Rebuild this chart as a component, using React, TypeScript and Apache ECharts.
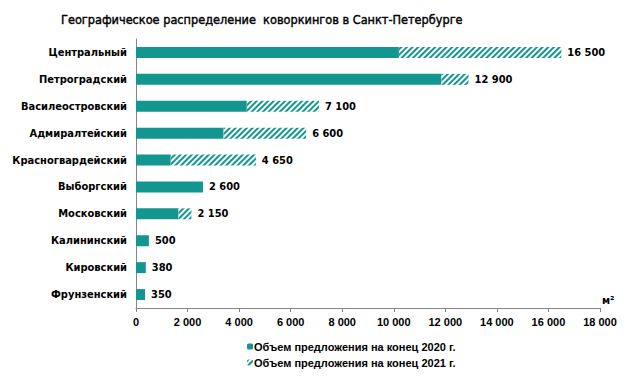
import React, { useEffect, useRef } from "react";
import * as echarts from "echarts";

const categories = [
  "Центральный",
  "Петроградский",
  "Василеостровский",
  "Адмиралтейский",
  "Красногвардейский",
  "Выборгский",
  "Московский",
  "Калининский",
  "Кировский",
  "Фрунзенский",
];
const supply2020 = [10200, 11850, 4300, 3400, 1350, 2600, 1650, 500, 380, 350];
const supply2021 = [16500, 12900, 7100, 6600, 4650, 2600, 2150, 500, 380, 350];
const xTicks = [0, 2000, 4000, 6000, 8000, 10000, 12000, 14000, 16000, 18000];
const legendNames = ["Объем предложения на конец 2020 г.", "Объем предложения на конец 2021 г."];
const titleText = "Географическое распределение  коворкингов в Санкт-Петербурге";

const NARROW = "'DejaVu Sans Condensed', 'Liberation Sans Narrow', 'Arial Narrow', sans-serif";
const SANS = "'Liberation Sans', Arial, sans-serif";
const TEAL = "#139690";

const fmt = (v: number) => String(v).replace(/\B(?=(\d{3})+(?!\d))/g, " ");

export default function App() {
  const ref = useRef<HTMLDivElement>(null);
  useEffect(() => {
    if (!ref.current) return;
    const chart = echarts.init(ref.current, undefined, { renderer: "svg" });
    const increment = supply2021.map((t, i) => t - supply2020[i]);
    chart.setOption({
      animation: false,
      backgroundColor: "#ffffff",
      title: {
        text: titleText,
        left: 61,
        top: 13,
        padding: 0,
        textStyle: {
          fontFamily: NARROW,
          fontSize: 12.6,
          fontWeight: "normal",
          color: "#000",
          textBorderColor: "#000",
          textBorderWidth: 0.4,
        },
      },
      legend: {
        data: legendNames,
        orient: "vertical",
        left: 247,
        top: 341,
        padding: 0,
        itemWidth: 6,
        itemHeight: 6,
        itemGap: 5,
        textStyle: { fontFamily: SANS, fontSize: 11, fontWeight: "bold", color: "#000", padding: [0, 0, 0, -4] },
      },
      grid: { left: 136, right: 32, top: 39, bottom: 68, containLabel: false },
      xAxis: {
        type: "value",
        min: xTicks[0],
        max: xTicks[xTicks.length - 1],
        interval: xTicks[1] - xTicks[0],
        name: "м²",
        nameLocation: "end",
        nameGap: 2,
        nameTextStyle: {
          fontFamily: NARROW,
          fontSize: 11,
          fontWeight: "bold",
          color: "#000",
          verticalAlign: "bottom",
          padding: [0, 0, 2, 0],
        },
        splitLine: { show: false },
        axisLine: { show: true, lineStyle: { color: "#868686", width: 1 } },
        axisTick: { show: true, length: 4, lineStyle: { color: "#868686" } },
        axisLabel: {
          fontFamily: SANS,
          fontSize: 11,
          fontWeight: "bold",
          color: "#000",
          margin: 8,
          formatter: (v: number) => fmt(v),
        },
      },
      yAxis: {
        type: "category",
        data: categories,
        inverse: true,
        axisLine: { show: true, lineStyle: { color: "#868686", width: 1 } },
        axisTick: { show: false },
        axisLabel: { fontFamily: NARROW, fontSize: 11, fontWeight: "bold", color: "#000", margin: 9 },
      },
      series: [
        {
          name: legendNames[0],
          type: "bar",
          stack: "s",
          data: supply2020,
          barWidth: 11,
          itemStyle: { color: TEAL },
        },
        {
          name: legendNames[1],
          type: "bar",
          stack: "s",
          data: increment,
          barWidth: 11,
          itemStyle: {
            color: "#ffffff",
            decal: {
              symbol: "rect",
              symbolSize: 1,
              color: TEAL,
              dashArrayX: [1, 0],
              dashArrayY: [2, 1.5],
              rotation: -Math.PI / 4,
            },
          },
        },
        {
          name: "total",
          type: "bar",
          data: supply2021,
          barWidth: 11,
          barGap: "-100%",
          z: 1,
          itemStyle: { color: "rgba(0,0,0,0)" },
          label: {
            show: true,
            position: "right",
            distance: 6,
            fontFamily: NARROW,
            fontSize: 11,
            fontWeight: "bold",
            color: "#000",
            formatter: (p: any) => fmt(p.value),
          },
          silent: true,
        },
      ],
    });
    return () => chart.dispose();
  }, []);
  return (
    <div
      ref={ref}
      style={{ position: "fixed", left: 0, top: 0, width: 632, height: 376 }}
    />
  );
}
